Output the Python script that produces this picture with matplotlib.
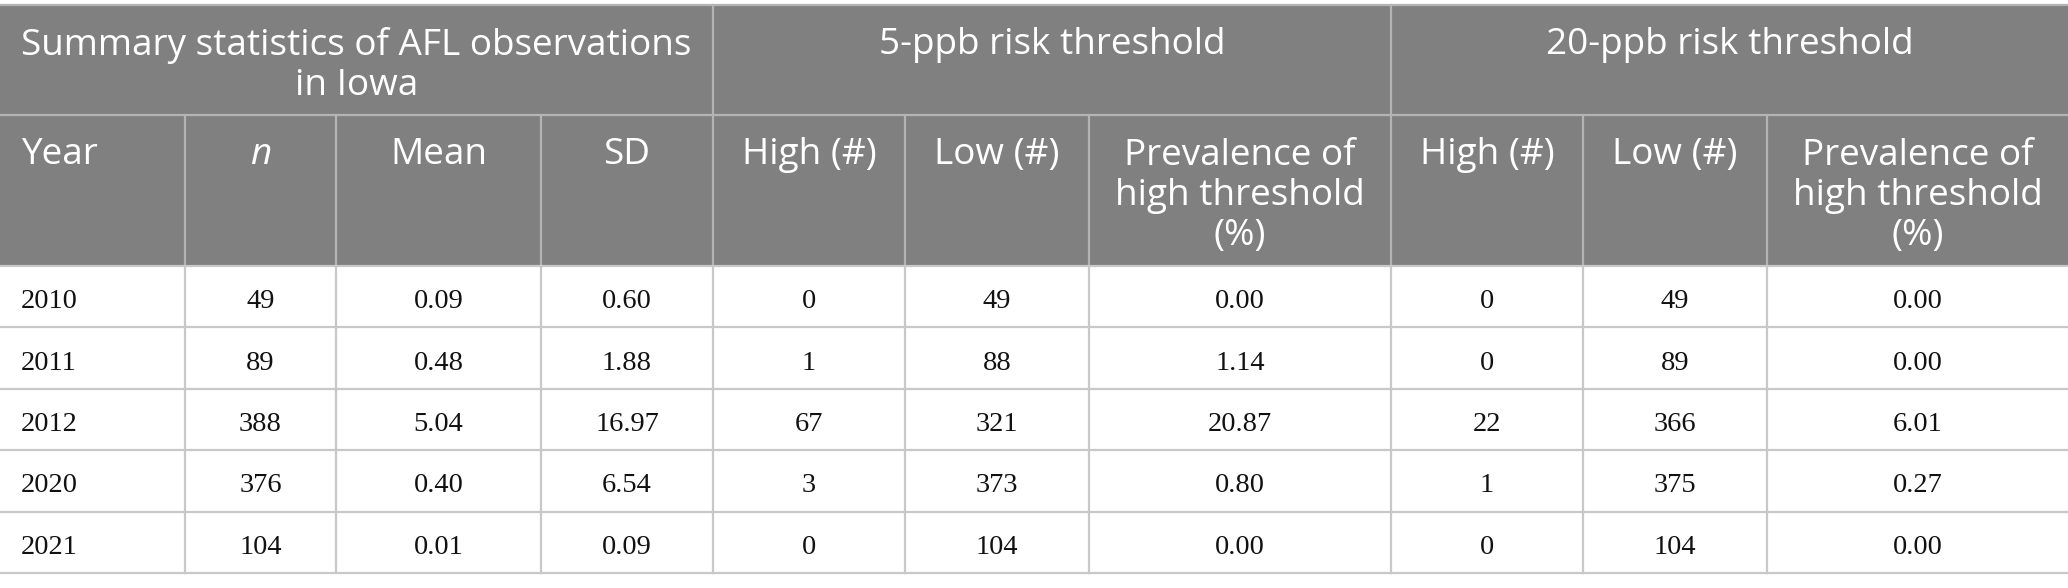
import matplotlib
matplotlib.use("Agg")
import matplotlib.pyplot as plt
from matplotlib.patches import Rectangle

# ---- data ----
group_headers = ["Summary statistics of AFL observations\nin Iowa", "5-ppb risk threshold", "20-ppb risk threshold"]
col_headers = ["Year", "n", "Mean", "SD", "High (#)", "Low (#)", "Prevalence of\nhigh threshold\n(%)",
               "High (#)", "Low (#)", "Prevalence of\nhigh threshold\n(%)"]
years = ["2010", "2011", "2012", "2020", "2021"]
n_obs = ["49", "89", "388", "376", "104"]
mean_vals = ["0.09", "0.48", "5.04", "0.40", "0.01"]
sd_vals = ["0.60", "1.88", "16.97", "6.54", "0.09"]
high5 = ["0", "1", "67", "3", "0"]
low5 = ["49", "88", "321", "373", "104"]
prev5 = ["0.00", "1.14", "20.87", "0.80", "0.00"]
high20 = ["0", "0", "22", "1", "0"]
low20 = ["49", "89", "366", "375", "104"]
prev20 = ["0.00", "0.00", "6.01", "0.27", "0.00"]

columns = [years, n_obs, mean_vals, sd_vals, high5, low5, prev5, high20, low20, prev20]

# ---- layout (pixels) ----
W, H = 2068, 588
col_edges = [0, 185, 336, 541, 713, 905, 1089, 1391, 1583, 1767, 2068]
group_spans = [(0, 4), (4, 7), (7, 10)]
y_top, y_h1, y_h2, y_bot = 5, 115, 266, 573
nrows = len(years)
row_h = (y_bot - y_h2) / nrows

HEAD_BG = "#7f807f"
HEAD_LINE = "#b4b4b4"
GRID = "#c8c8c8"
sans = ["Open Sans", "DejaVu Sans"]
serif = ["Liberation Serif", "DejaVu Serif"]
head_fs = 26.6
data_fs = 20.5
line_px = 41.0
ls = 1.14

fig = plt.figure(figsize=(W / 100, H / 100), dpi=100)
ax = fig.add_axes([0, 0, 1, 1])
ax.set_xlim(0, W)
ax.set_ylim(H, 0)
ax.axis("off")

# header background
ax.add_patch(Rectangle((0, y_top), W, y_h2 - y_top, facecolor=HEAD_BG, edgecolor="none", zorder=1))


def head_text(x, first_center, label, ha="center", style="normal"):
    nl = label.count("\n")
    yc = first_center + nl * line_px / 2
    ax.text(x, yc, label, ha=ha, va="center", ma="center", color="white", fontsize=head_fs,
            family=sans, style=style, linespacing=ls, zorder=3)


# group header text
for label, (a, b) in zip(group_headers, group_spans):
    head_text((col_edges[a] + col_edges[b]) / 2, 45, label)

# column header text
for i, label in enumerate(col_headers):
    a, b = col_edges[i], col_edges[i + 1]
    style = "italic" if label == "n" else "normal"
    if i == 0:
        head_text(a + 21, 155, label, ha="left", style=style)
    else:
        head_text((a + b) / 2, 155, label, style=style)

# data text
for r in range(nrows):
    yc = y_h2 + (r + 0.5) * row_h + 5
    for c, col in enumerate(columns):
        a, b = col_edges[c], col_edges[c + 1]
        if c == 0:
            ax.text(a + 21, yc, col[r], ha="left", va="center", fontsize=data_fs,
                    family=serif, color="#111111", zorder=3)
        else:
            ax.text((a + b) / 2, yc, col[r], ha="center", va="center", fontsize=data_fs,
                    family=serif, color="#111111", zorder=3)

# lines
lw = 1.6
ax.plot([0, W], [y_top, y_top], color=HEAD_LINE, lw=lw, zorder=2)
ax.plot([0, W], [y_h1, y_h1], color=HEAD_LINE, lw=lw, zorder=2)
for a, b in group_spans[1:]:
    ax.plot([col_edges[a]] * 2, [y_top, y_h1], color=HEAD_LINE, lw=lw, zorder=2)
for x in col_edges[1:-1]:
    ax.plot([x, x], [y_h1, y_h2], color=HEAD_LINE, lw=lw, zorder=2)
    ax.plot([x, x], [y_h2, y_bot], color=GRID, lw=lw, zorder=2)
for r in range(nrows + 1):
    y = y_h2 + r * row_h
    ax.plot([0, W], [y, y], color=GRID, lw=lw, zorder=2)

fig.savefig("out.png", dpi=100, facecolor="white")
